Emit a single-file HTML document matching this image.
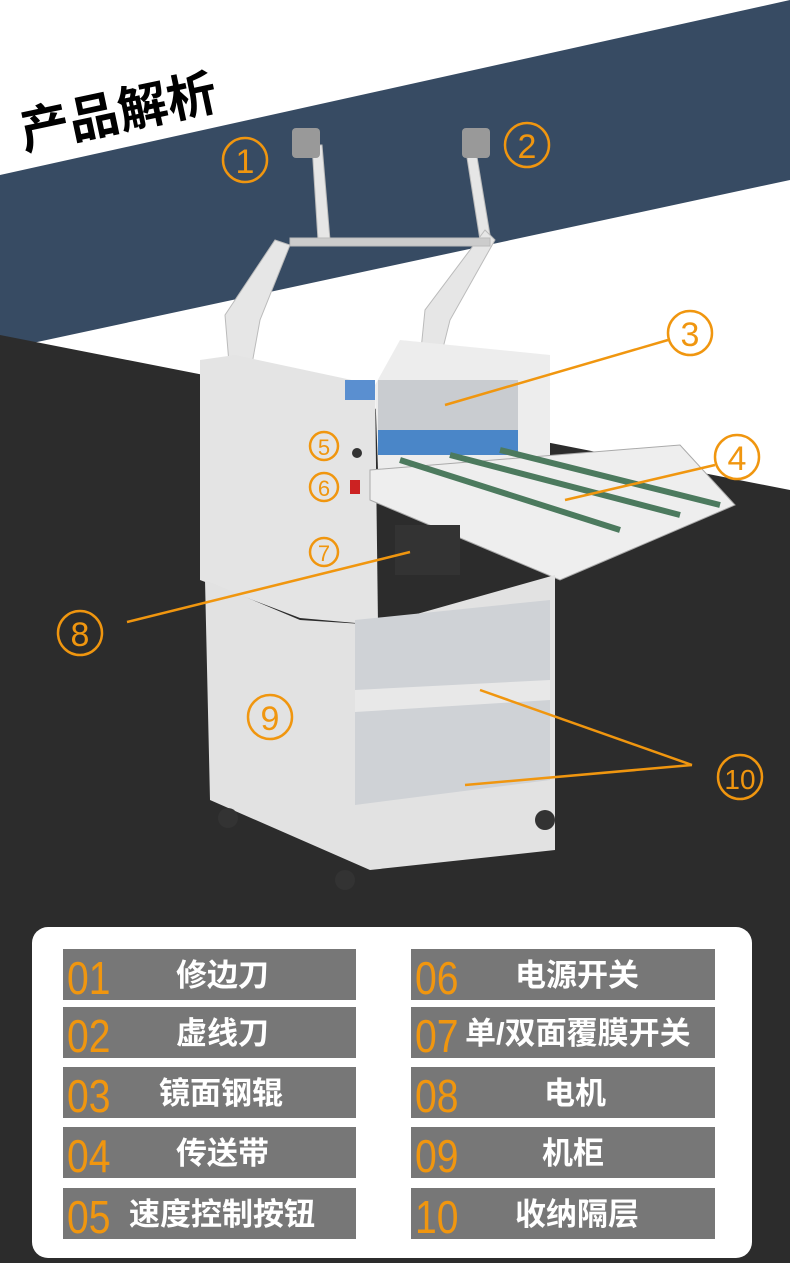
<!DOCTYPE html>
<html><head><meta charset="utf-8"><style>
body{margin:0;width:790px;height:1263px;overflow:hidden;background:#2c2c2c;font-family:"Liberation Sans","Noto Sans CJK SC",sans-serif}
.wrap{position:relative;width:790px;height:1263px}
.panel{position:absolute;left:32px;top:927px;width:720px;height:331px;background:#fff;border-radius:16px}
.row{position:absolute;height:51px;background:#777;color:#fff;font-weight:bold;font-size:31px;line-height:53px}
.row .n{position:absolute;left:4px;top:0;color:#f0960f;font-weight:normal;font-size:46px;line-height:58px;transform:scaleX(0.85);transform-origin:left}
.row .t{position:absolute;top:0}
</style></head><body><div class="wrap">
<svg width="790" height="927" style="position:absolute;left:0;top:0">
<rect width="790" height="927" fill="#fff"/>
<polygon points="0,175 790,0 790,180 0,350" fill="#374b63"/>
<polygon points="0,335 790,490 790,927 0,927" fill="#2c2c2c"/>
<g fill="#e6e6e6" stroke="#bbb">
<polygon points="312,145 322,145 330,240 318,240"/>
<polygon points="465,145 475,145 490,235 480,240"/>
<polygon points="275,240 290,245 260,320 250,375 230,375 225,315"/>
<polygon points="485,230 495,240 450,320 440,360 420,360 425,310"/>
<rect x="290" y="238" width="200" height="8" fill="#ccc"/>
</g>
<rect x="292" y="128" width="28" height="30" rx="4" fill="#999"/>
<rect x="462" y="128" width="28" height="30" rx="4" fill="#999"/>
<polygon points="200,360 235,355 375,385 378,625 300,618 200,580" fill="#e4e4e4"/>
<polygon points="375,385 400,340 550,355 550,470 378,470" fill="#ededed"/>
<rect x="378" y="380" width="140" height="50" fill="#c9ccd0"/>
<rect x="345" y="380" width="30" height="20" fill="#5a8fd0"/>
<rect x="378" y="430" width="140" height="25" fill="#4a86c8"/>
<polygon points="370,470 680,445 735,505 560,580 370,500" fill="#eeeeee" stroke="#aaa"/>
<g stroke="#4c7a5e" stroke-width="6"><line x1="400" y1="460" x2="620" y2="530"/><line x1="450" y1="455" x2="680" y2="515"/><line x1="500" y1="450" x2="720" y2="505"/></g>
<rect x="350" y="480" width="10" height="14" fill="#c22"/>
<circle cx="357" cy="453" r="5" fill="#333"/>
<rect x="395" y="525" width="65" height="50" fill="#333"/>
<polygon points="205,580 300,620 378,625 555,575 555,850 370,870 210,800" fill="#e2e2e2"/>
<polygon points="355,620 550,600 550,780 355,805" fill="#cfd2d6"/>
<polygon points="355,690 550,680 550,700 355,712" fill="#e8e8e8"/>
<circle cx="228" cy="818" r="10" fill="#333"/><circle cx="345" cy="880" r="10" fill="#333"/><circle cx="545" cy="820" r="10" fill="#333"/>
<text x="0" y="0" transform="translate(24,150) rotate(-12)" font-size="50" font-weight="bold" fill="#000" font-family="Liberation Sans,Noto Sans CJK SC,sans-serif">产品解析</text>
<g stroke="#f0960f" stroke-width="2.5" fill="none">
<line x1="668" y1="340" x2="445" y2="405"/>
<line x1="715" y1="465" x2="565" y2="500"/>
<line x1="127" y1="622" x2="410" y2="552"/>
<line x1="692" y1="765" x2="480" y2="690"/>
<line x1="692" y1="765" x2="465" y2="785"/>
<circle cx="245" cy="160" r="22"/><circle cx="527" cy="145" r="22"/><circle cx="690" cy="333" r="22"/><circle cx="737" cy="457" r="22"/>
<circle cx="324" cy="446" r="14"/><circle cx="324" cy="487" r="14"/><circle cx="324" cy="552" r="14"/>
<circle cx="80" cy="633" r="22"/><circle cx="270" cy="717" r="22"/><circle cx="740" cy="777" r="22"/>
</g>
<g fill="#f0960f" font-family="Liberation Sans,sans-serif" text-anchor="middle">
<text x="245" y="173" font-size="34">1</text><text x="527" y="158" font-size="34">2</text><text x="690" y="346" font-size="34">3</text><text x="737" y="470" font-size="34">4</text>
<text x="324" y="455" font-size="22">5</text><text x="324" y="496" font-size="22">6</text><text x="324" y="561" font-size="22">7</text>
<text x="80" y="646" font-size="34">8</text><text x="270" y="730" font-size="34">9</text><text x="740" y="789" font-size="28">10</text>
</g>
</svg>
<div class="panel"></div>
<div class="row" style="left:63px;top:949px;width:293px"><span class="n">01</span><span class="t" style="left:113px">修边刀</span></div>
<div class="row" style="left:63px;top:1007px;width:293px"><span class="n">02</span><span class="t" style="left:113px">虚线刀</span></div>
<div class="row" style="left:63px;top:1067px;width:293px"><span class="n">03</span><span class="t" style="left:96px">镜面钢辊</span></div>
<div class="row" style="left:63px;top:1127px;width:293px"><span class="n">04</span><span class="t" style="left:113px">传送带</span></div>
<div class="row" style="left:63px;top:1188px;width:293px"><span class="n">05</span><span class="t" style="left:66px">速度控制按钮</span></div>
<div class="row" style="left:411px;top:949px;width:304px"><span class="n">06</span><span class="t" style="left:104px">电源开关</span></div>
<div class="row" style="left:411px;top:1007px;width:304px"><span class="n">07</span><span class="t" style="left:54px">单/双面覆膜开关</span></div>
<div class="row" style="left:411px;top:1067px;width:304px"><span class="n">08</span><span class="t" style="left:133px">电机</span></div>
<div class="row" style="left:411px;top:1127px;width:304px"><span class="n">09</span><span class="t" style="left:131px">机柜</span></div>
<div class="row" style="left:411px;top:1188px;width:304px"><span class="n">10</span><span class="t" style="left:104px">收纳隔层</span></div>
</div></body></html>
